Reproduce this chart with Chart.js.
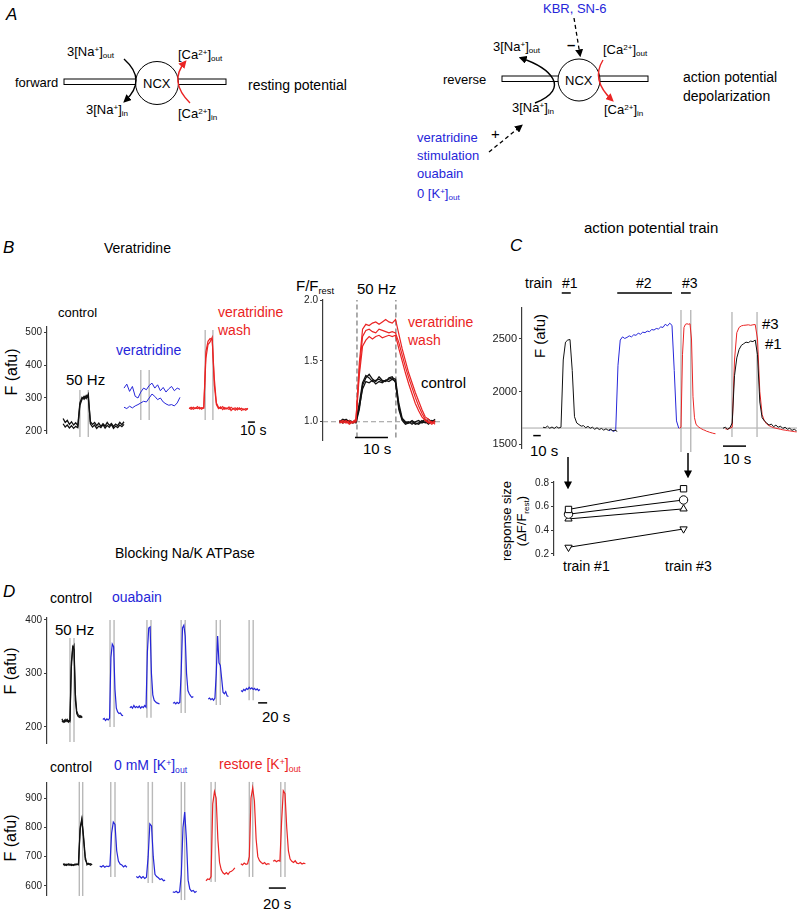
<!DOCTYPE html>
<html>
<head>
<meta charset="utf-8">
<script src="https://cdn.jsdelivr.net/npm/chart.js@4.4.1/dist/chart.umd.min.js"></script>
<style>
  html, body { margin: 0; padding: 0; background: #fff; }
  body { position: relative; width: 798px; height: 910px; overflow: hidden; font-family: 'Liberation Sans', Arial, sans-serif; }
  .t { position: absolute; white-space: nowrap; line-height: 1; color: #000; }
  .it { font-style: italic; font-size: 17px; }
  .blue { color: #2626d9; }
  .red { color: #ea2424; }
  .rot { transform: translate(-50%, -50%) rotate(-90deg); }
  .sp { font-size: 0.62em; vertical-align: 0.5em; }
  .sb { font-size: 0.62em; vertical-align: -0.3em; }
  svg { position: absolute; left: 0; top: 0; }
  canvas { position: absolute; }
</style>
</head>
<body>

<svg width="798" height="910">
  <defs>
    <marker id="ah" viewBox="0 0 10 10" refX="7" refY="5" markerWidth="8" markerHeight="8" markerUnits="userSpaceOnUse" orient="auto">
      <path d="M0,0 L10,5 L0,10 z" fill="#000"/>
    </marker>
    <marker id="ahr" viewBox="0 0 10 10" refX="7" refY="5" markerWidth="8" markerHeight="8" markerUnits="userSpaceOnUse" orient="auto">
      <path d="M0,0 L10,5 L0,10 z" fill="#ea2424"/>
    </marker>
  </defs>
  <!-- forward mode -->
  <rect x="64" y="79" width="162" height="5.5" fill="#fff" stroke="#000" stroke-width="1"/>
  <circle cx="157" cy="83" r="21.5" fill="#fff" stroke="#000" stroke-width="1"/>
  <path d="M124,59 Q147.5,80 125,101" fill="none" stroke="#000" stroke-width="1.4" marker-end="url(#ah)"/>
  <path d="M190,103 Q168.5,81.5 185,62" fill="none" stroke="#ea2424" stroke-width="1.4" marker-end="url(#ahr)"/>
  <!-- reverse mode -->
  <rect x="502" y="76" width="146" height="5.5" fill="#fff" stroke="#000" stroke-width="1"/>
  <circle cx="579" cy="80" r="21" fill="#fff" stroke="#000" stroke-width="1"/>
  <path d="M535,103 C572,88 550,68 521,58" fill="none" stroke="#000" stroke-width="1.4" marker-end="url(#ah)"/>
  <path d="M603,60 Q590.5,80 612,100" fill="none" stroke="#ea2424" stroke-width="1.4" marker-end="url(#ahr)"/>
  <line x1="574" y1="18" x2="580" y2="55" stroke="#000" stroke-width="1.3" stroke-dasharray="4,3" marker-end="url(#ah)"/>
  <line x1="489" y1="152" x2="521" y2="126" stroke="#000" stroke-width="1.3" stroke-dasharray="4,3" marker-end="url(#ah)"/>
  <!-- C arrows -->
  <line x1="568" y1="457" x2="568" y2="487" stroke="#000" stroke-width="1.5" marker-end="url(#ah)"/>
  <line x1="688" y1="453" x2="688" y2="476" stroke="#000" stroke-width="1.5" marker-end="url(#ah)"/>
</svg>

<!-- panel A text -->
<div class="t it" style="left:6px;top:6px">A</div>
<div class="t" style="left:15px;top:76px;font-size:13px">forward</div>
<div class="t" style="left:143px;top:77px;font-size:13px">NCX</div>
<div class="t" style="left:67px;top:45px;font-size:13px">3[Na<span class="sp">+</span>]<span class="sb">out</span></div>
<div class="t" style="left:86px;top:103px;font-size:13px">3[Na<span class="sp">+</span>]<span class="sb">in</span></div>
<div class="t" style="left:178px;top:48px;font-size:13px">[Ca<span class="sp">2+</span>]<span class="sb">out</span></div>
<div class="t" style="left:178px;top:107px;font-size:13px">[Ca<span class="sp">2+</span>]<span class="sb">in</span></div>
<div class="t" style="left:248px;top:78px;font-size:14px">resting potential</div>

<div class="t blue" style="left:543px;top:2px;font-size:13px">KBR, SN-6</div>
<div class="t" style="left:493px;top:40px;font-size:13px">3[Na<span class="sp">+</span>]<span class="sb">out</span></div>
<div class="t" style="left:603px;top:43px;font-size:13px">[Ca<span class="sp">2+</span>]<span class="sb">out</span></div>
<div class="t" style="left:443px;top:73px;font-size:13px">reverse</div>
<div class="t" style="left:565px;top:74px;font-size:13px">NCX</div>
<div class="t" style="left:683px;top:70px;font-size:14px">action potential</div>
<div class="t" style="left:683px;top:89px;font-size:14px">depolarization</div>
<div class="t" style="left:512px;top:101px;font-size:13px">3[Na<span class="sp">+</span>]<span class="sb">in</span></div>
<div class="t" style="left:604px;top:103px;font-size:13px">[Ca<span class="sp">2+</span>]<span class="sb">in</span></div>
<div class="t" style="left:567px;top:37px;font-size:15px;font-weight:bold">–</div>
<div class="t" style="left:491px;top:126px;font-size:15px">+</div>
<div class="t blue" style="left:417px;top:131px;font-size:13px">veratridine</div>
<div class="t blue" style="left:417px;top:149px;font-size:13px">stimulation</div>
<div class="t blue" style="left:417px;top:167px;font-size:13px">ouabain</div>
<div class="t blue" style="left:417px;top:187px;font-size:13px">0 [K<span class="sp">+</span>]<span class="sb">out</span></div>

<!-- panel B text -->
<div class="t it" style="left:3px;top:239px">B</div>
<div class="t" style="left:104px;top:241px;font-size:14px">Veratridine</div>
<div class="t" style="left:58px;top:306px;font-size:13px">control</div>
<div class="t blue" style="left:116px;top:343px;font-size:14px">veratridine</div>
<div class="t red" style="left:218px;top:305px;font-size:14px">veratridine</div>
<div class="t red" style="left:218px;top:323px;font-size:14px">wash</div>
<div class="t" style="left:66px;top:372px;font-size:15px">50 Hz</div>
<div class="t rot" style="left:12px;top:372px;font-size:16px">F (afu)</div>
<div class="t" style="left:240px;top:423px;font-size:14px">10 s</div>
<div class="t" style="left:296px;top:278px;font-size:15px">F/F<span class="sb">rest</span></div>
<div class="t" style="left:357px;top:281px;font-size:15px">50 Hz</div>
<div class="t red" style="left:408px;top:315px;font-size:14px">veratridine</div>
<div class="t red" style="left:408px;top:333px;font-size:14px">wash</div>
<div class="t" style="left:421px;top:375px;font-size:15px">control</div>
<div class="t" style="left:363px;top:441px;font-size:15px">10 s</div>

<!-- panel C text -->
<div class="t" style="left:584px;top:220px;font-size:15px">action potential train</div>
<div class="t it" style="left:510px;top:237px">C</div>
<div class="t" style="left:525px;top:276px;font-size:14px">train</div>
<div class="t" style="left:562px;top:276px;font-size:14px">#1</div>
<div class="t" style="left:636px;top:276px;font-size:14px">#2</div>
<div class="t" style="left:682px;top:276px;font-size:14px">#3</div>
<div class="t rot" style="left:539px;top:336px;font-size:15px">F (afu)</div>
<div class="t" style="left:762px;top:316px;font-size:15px">#3</div>
<div class="t" style="left:765px;top:336px;font-size:15px">#1</div>
<div class="t" style="left:530px;top:443px;font-size:15px">10 s</div>
<div class="t" style="left:723px;top:451px;font-size:15px">10 s</div>
<div class="t rot" style="left:506px;top:521px;font-size:13px">response size</div>
<div class="t rot" style="left:523px;top:521px;font-size:13px">(ΔF/F<span class="sb">rest</span>)</div>
<div class="t" style="left:563px;top:559px;font-size:14px">train #1</div>
<div class="t" style="left:665px;top:559px;font-size:14px">train #3</div>

<!-- panel D text -->
<div class="t" style="left:115px;top:546px;font-size:14px">Blocking Na/K ATPase</div>
<div class="t it" style="left:3px;top:583px">D</div>
<div class="t" style="left:50px;top:591px;font-size:14px">control</div>
<div class="t blue" style="left:112px;top:590px;font-size:14px">ouabain</div>
<div class="t" style="left:55px;top:622px;font-size:15px">50 Hz</div>
<div class="t rot" style="left:11px;top:671px;font-size:16px">F (afu)</div>
<div class="t" style="left:262px;top:709px;font-size:15px">20 s</div>
<div class="t" style="left:50px;top:760px;font-size:14px">control</div>
<div class="t blue" style="left:114px;top:758px;font-size:14px">0 mM [K<span class="sp">+</span>]<span class="sb">out</span></div>
<div class="t red" style="left:219px;top:757px;font-size:14px">restore [K<span class="sp">+</span>]<span class="sb">out</span></div>
<div class="t rot" style="left:11px;top:838px;font-size:16px">F (afu)</div>
<div class="t" style="left:263px;top:896px;font-size:15px">20 s</div>

<script>
// ---- data ----
// B, raw traces (F, afu), time in s
const bCtrlA = [238, 226, 232, 220, 228, 218, 225, 216, 285, 302, 296, 308, 300, 228, 220, 226, 216, 224, 214, 222, 215, 226, 217, 223, 214, 221, 216, 226, 219, 228];
const bCtrlB = [222, 212, 218, 209, 216, 208, 214, 210, 278, 296, 305, 298, 312, 222, 212, 218, 208, 215, 210, 219, 209, 217, 211, 220, 208, 215, 210, 218, 213, 220];
const bVerA = [330, 342, 320, 335, 305, 300, 318, 330, 325, 338, 345, 330, 340, 322, 332, 318, 328, 335, 322, 330, 326];
const bVerB = [272, 268, 275, 270, 276, 280, 285, 290, 288, 300, 312, 305, 295, 300, 288, 282, 278, 280, 276, 285, 302];
const bWashA = [270, 266, 272, 268, 274, 267, 271, 269, 440, 472, 480, 476, 360, 285, 272, 268, 274, 266, 270, 265, 272, 267, 263, 270, 266, 269, 264, 268, 266];
const bWashB = [268, 272, 266, 270, 268, 272, 266, 272, 420, 462, 470, 484, 340, 280, 268, 273, 265, 271, 267, 273, 262, 268, 270, 264, 270, 262, 267, 263, 269];
const bStim = [[47, 59], [134, 146], [226, 237]];
const bStimRange = [[182, 324], [233, 385], [233, 506]];
const bTicks = [200, 300, 400, 500];

// B, normalised traces (F/Frest)
const bRelRed1 = [1.00, 0.99, 1.01, 0.99, 1.00, 1.01, 1.48, 1.76, 1.80, 1.79, 1.81, 1.82, 1.80, 1.82, 1.84, 1.82, 1.81, 1.84, 1.72, 1.60, 1.50, 1.40, 1.32, 1.24, 1.17, 1.10, 1.04, 1.02, 0.99, 1.01];
const bRelRed2 = [0.99, 1.01, 1.00, 0.98, 1.00, 1.02, 1.42, 1.70, 1.75, 1.76, 1.74, 1.73, 1.76, 1.75, 1.74, 1.73, 1.74, 1.73, 1.65, 1.55, 1.45, 1.36, 1.28, 1.20, 1.13, 1.07, 1.02, 1.00, 0.98, 1.00];
const bRelRed3 = [1.01, 1.00, 0.99, 1.01, 0.99, 1.00, 1.38, 1.62, 1.67, 1.70, 1.68, 1.70, 1.71, 1.69, 1.70, 1.71, 1.70, 1.71, 1.60, 1.50, 1.40, 1.31, 1.23, 1.15, 1.09, 1.04, 1.01, 0.99, 1.00, 0.98];
const bRelBlk1 = [1.00, 1.02, 1.01, 0.99, 1.00, 1.01, 1.15, 1.32, 1.38, 1.36, 1.33, 1.34, 1.35, 1.33, 1.34, 1.35, 1.36, 1.35, 1.15, 1.03, 1.00, 0.99, 1.00, 0.98, 0.99, 1.01, 0.99, 1.02, 1.00, 1.01];
const bRelBlk2 = [0.99, 1.00, 1.02, 1.00, 0.99, 1.00, 1.12, 1.27, 1.33, 1.32, 1.34, 1.31, 1.33, 1.32, 1.34, 1.33, 1.35, 1.33, 1.12, 1.02, 0.99, 1.00, 0.98, 1.00, 1.01, 0.99, 1.00, 0.98, 1.01, 1.00];
const bRelBlk3 = [1.01, 0.99, 1.00, 1.01, 1.00, 0.99, 1.10, 1.30, 1.36, 1.39, 1.35, 1.33, 1.37, 1.34, 1.33, 1.36, 1.37, 1.32, 1.10, 1.01, 0.98, 0.99, 1.01, 0.99, 0.98, 1.00, 1.02, 0.99, 1.00, 1.02];
const bRelStim = [10.3, 22.1];
const bRelTicks = [1.0, 1.5, 2.0];

// C, three trains (F, afu)
const cTrain1 = [1660, 1655, 1670, 1650, 1662, 1648, 1665, 1652, 1660, 2300, 2470, 2490, 2495, 2200, 1760, 1700, 1685, 1670, 1675, 1655, 1668, 1650, 1660, 1640, 1655, 1638, 1648, 1632, 1645, 1630, 1640, 1625, 1632, 1620];
const cTrain2 = [1625, 1640, 1618, 1635, 2250, 2490, 2520, 2505, 2515, 2530, 2520, 2540, 2535, 2555, 2545, 2565, 2560, 2575, 2570, 2590, 2585, 2600, 2595, 2615, 2610, 2640, 2625, 2650, 2630, 2200, 1720, 1650];
const cTrain3 = [1650, 1660, 2350, 2610, 2640, 2645, 2640, 2645, 2500, 1950, 1750, 1690, 1670, 1660, 1650, 1642, 1635, 1630, 1622, 1618, 1612, 1608, 1604, 1600, 1598];
const cStim = [[53, 65], [127, 200], [212, 225]];
const cTicks = [1500, 2000, 2500];
const cRest = 1652;
// C, overlay of train #1 and #3
const cOv1 = [1650, 1660, 1640, 1655, 1700, 2150, 2320, 2400, 2440, 2455, 2470, 2465, 2480, 2475, 2490, 2350, 1900, 1750, 1720, 1700, 1680, 1690, 1665, 1680, 1660, 1670, 1648, 1660, 1640, 1650, 1630, 1640, 1625];
const cOv3 = [1645, 1640, 1650, 1660, 2300, 2560, 2610, 2625, 2630, 2632, 2635, 2630, 2635, 2638, 2500, 2000, 1780, 1720, 1690, 1675, 1665, 1655, 1650, 1645, 1640, 1635, 1632, 1628, 1625, 1622, 1618, 1615];
const cOvStim = [3.9, 14.8];
// C, response size (dF/Frest) at train #1 and #3
const respTrain = [1, 3];
const respSquare = [0.575, 0.75];
const respCircle = [0.535, 0.655];
const respTriUp = [0.495, 0.58];
const respTriDown = [0.255, 0.41];
const respTicks = [0.2, 0.4, 0.6, 0.8];

// D, ouabain (F, afu)
const dTop1 = [212, 209, 213, 210, 214, 209, 212, 320, 350, 345, 250, 225, 220, 218, 221, 217];
const dTop1b = [215, 211, 209, 214, 210, 212, 210, 310, 345, 352, 262, 230, 223, 221, 218, 220];
const dTop2 = [214, 216, 212, 215, 213, 216, 330, 355, 350, 270, 235, 228, 225, 226, 222, 221];
const dTop3 = [236, 238, 235, 240, 236, 238, 236, 239, 235, 238, 236, 240, 237, 340, 385, 387, 300, 260, 250, 247, 245, 244, 243];
const dTop4 = [244, 246, 243, 246, 244, 246, 300, 385, 390, 370, 300, 268, 262, 258, 255, 257];
const dTop5 = [252, 254, 251, 253, 250, 254, 300, 370, 320, 315, 290, 265, 262, 266, 258, 257];
const dTop6 = [268, 266, 270, 268, 272, 270, 274, 271, 273, 270, 272, 269, 271, 268, 270];
const dTopStart = [33, 124, 184, 280, 358, 431];
const dTopStim = [[51, 60], [140, 149], [222, 231], [298, 307], [376, 385], [449, 458]];
const dTopStimRange = [[172, 366], [200, 400], [217, 400], [226, 400], [241, 400], [250, 400]];
const dTopTicks = [200, 300, 400];

// D, 0 mM / restore K+ (F, afu)
const dBot1 = [672, 675, 670, 676, 671, 674, 670, 675, 672, 676, 800, 830, 760, 690, 678, 674, 676, 672];
const dBot1b = [676, 670, 674, 671, 675, 670, 673, 671, 675, 672, 790, 826, 770, 700, 672, 677, 671, 675];
const dBot2 = [668, 665, 670, 664, 668, 666, 669, 780, 818, 810, 720, 685, 675, 672, 665, 670, 664];
const dBot3 = [632, 628, 634, 627, 632, 626, 630, 700, 812, 805, 700, 640, 632, 628, 622, 625, 618, 620];
const dBot4 = [580, 578, 582, 577, 580, 640, 800, 852, 760, 620, 590, 582, 585, 578, 582];
const dBot5 = [618, 624, 622, 632, 880, 922, 900, 760, 680, 655, 645, 640, 646, 640, 648, 650, 655, 662];
const dBot6 = [676, 672, 678, 674, 676, 700, 900, 935, 890, 760, 700, 686, 680, 676, 680, 673, 676, 674];
const dBot7 = [684, 688, 683, 687, 685, 820, 925, 915, 800, 720, 692, 684, 680, 686, 678, 676, 680, 675, 678, 676];
const dBotStart = [19, 62, 105, 148, 187, 228, 266];
const dBotStim = [[38, 42], [75, 80], [119, 124], [158, 162], [193, 198], [238, 242], [275, 280]];
const dBotStimRange = [[566, 955], [631, 955], [610, 955], [552, 955], [614, 955], [631, 955], [631, 955]];
const dBotTicks = [600, 700, 800, 900];

// ---- drawing ----
const FONT = "'Liberation Sans', Arial, sans-serif";
const AXIS = '#3c3c3c';
const BLACK = '#111', BLUE = '#2626d9', RED = '#ea2424', STIM = '#b9b9b9';

function trace(vals, t0, dt, color, width) {
    return {
        data: vals.map((v, i) => ({ x: t0 + i * dt, y: v })),
        borderColor: color, borderWidth: width || 1, pointRadius: 0, tension: 0, order: 1
    };
}
function vline(t, lo, hi, color, dash) {
    return {
        data: [{ x: t, y: lo }, { x: t, y: hi }],
        borderColor: color || STIM, borderWidth: 1.4, borderDash: dash || [], pointRadius: 0, clip: false, order: 5
    };
}
function hline(t1, t2, y, color, width, dash) {
    return {
        data: [{ x: t1, y: y }, { x: t2, y: y }],
        borderColor: color || '#000', borderWidth: width || 1.5, borderDash: dash || [], pointRadius: 0, clip: false, order: 4
    };
}
function stims(pairs, ranges) {
    const out = [];
    pairs.forEach((p, i) => {
        const r = ranges[i] || ranges;
        out.push(vline(p[0], r[0], r[1]), vline(p[1], r[0], r[1]));
    });
    return out;
}

function makeChart(area, axisW, pad, xr, yr, ticks, dec, fs, datasets) {
    const cv = document.createElement('canvas');
    const w = area.w + axisW + pad.r;
    const h = area.h + pad.t + pad.b;
    cv.width = w;
    cv.height = h;
    cv.style.left = (area.x - axisW) + 'px';
    cv.style.top = (area.y - pad.t) + 'px';
    cv.style.width = w + 'px';
    cv.style.height = h + 'px';
    document.body.appendChild(cv);
    return new Chart(cv.getContext('2d'), {
        type: 'line',
        data: { datasets: datasets },
        options: {
            responsive: false,
            animation: false,
            events: [],
            layout: { padding: { left: 0, right: pad.r, top: pad.t, bottom: pad.b } },
            plugins: { legend: { display: false }, tooltip: { enabled: false } },
            scales: {
                x: { type: 'linear', min: xr[0], max: xr[1], display: false },
                y: {
                    type: 'linear', min: yr[0], max: yr[1], display: axisW > 0,
                    afterBuildTicks: s => { s.ticks = ticks.map(v => ({ value: v })); },
                    afterFit: s => { s.width = axisW; s.paddingTop = 0; s.paddingBottom = 0; },
                    grid: { drawOnChartArea: false, drawTicks: true, tickLength: 3, color: AXIS },
                    border: { display: true, color: AXIS, width: 1.2 },
                    ticks: { padding: 2, color: '#222', font: { family: FONT, size: fs }, callback: v => v.toFixed(dec) }
                }
            }
        }
    });
}

// B left: raw traces
makeChart({ x: 47, y: 327, w: 223, h: 106 }, 36, { t: 10, b: 12, r: 0 }, [0, 318.6], [193.9, 515.2], bTicks, 0, 10, [
    trace(bCtrlA, 23, 3, BLACK, 1.3),
    trace(bCtrlB, 23, 3, BLACK, 1.3),
    trace(bVerA, 110, 4, BLUE),
    trace(bVerB, 110, 4, BLUE),
    trace(bWashA, 203, 3, RED, 1.2),
    trace(bWashB, 203, 3, RED, 1.2),
    ...stims(bStim, bStimRange),
    hline(287, 297, 227)
]);

// B right: normalised
makeChart({ x: 323, y: 300, w: 122, h: 140 }, 30, { t: 10, b: 10, r: 0 }, [0, 37], [0.85, 2.0], bRelTicks, 1, 10, [
    trace(bRelRed1, 5, 1, RED, 1.2),
    trace(bRelRed2, 5, 1, RED, 1.2),
    trace(bRelRed3, 5, 1, RED, 1.2),
    trace(bRelBlk1, 5, 1, BLACK, 1.3),
    trace(bRelBlk2, 5, 1, BLACK, 1.3),
    trace(bRelBlk3, 5, 1, BLACK, 1.3),
    vline(bRelStim[0], 0.87, 2.0, '#8a8a8a', [5, 3]),
    vline(bRelStim[1], 0.87, 2.0, '#8a8a8a', [5, 3]),
    hline(0, 36, 1.0, '#9a9a9a', 1, [5, 3]),
    hline(9.7, 19.7, 0.87)
]);

// C: three trains
makeChart({ x: 522, y: 308, w: 275, h: 140 }, 36, { t: 22, b: 12, r: 0 }, [0, 366.7], [1462, 2795], cTicks, 0, 11, [
    trace(cTrain1, 28, 3, BLACK),
    trace(cTrain2, 116, 3, BLUE),
    trace(cTrain3, 210, 2, RED),
    ...stims(cStim, [1424, 2776]),
    ...cStim.map(p => hline(p[0], p[1], 2938, '#000', 1.5)),
    hline(0, 366.7, cRest, '#a8a8a8', 1),
    hline(15, 25, 1580)
]);

// C: overlay of #1 and #3
makeChart({ x: 723, y: 308, w: 75, h: 140 }, 0, { t: 10, b: 10, r: 0 }, [0, 32.6], [1462, 2795], cTicks, 0, 11, [
    trace(cOv1, 0, 1, BLACK),
    trace(cOv3, 1, 1, RED),
    vline(cOvStim[0], 1567, 2757),
    vline(cOvStim[1], 1567, 2757),
    hline(0, 10, 1480)
]);

// C: response size
const respMarks = [[respSquare, 'rect', 0], [respCircle, 'circle', 0], [respTriUp, 'triangle', 0], [respTriDown, 'triangle', 180]];
makeChart({ x: 554, y: 482, w: 166, h: 73 }, 26, { t: 10, b: 10, r: 0 }, [0.748, 3.538], [0.19, 0.807], respTicks, 1, 10,
    respMarks.map(m => ({
        data: respTrain.map((x, i) => ({ x: x, y: m[0][i] })),
        borderColor: '#000', borderWidth: 1, pointStyle: m[1], rotation: m[2],
        pointRadius: m[1] === 'rect' ? 4.5 : 4.2, pointBackgroundColor: '#fff', pointBorderColor: '#000',
        pointBorderWidth: 1, clip: false
    }))
);

// D top: ouabain
const dTopSeries = [dTop1, dTop2, dTop3, dTop4, dTop5, dTop6];
makeChart({ x: 47, y: 618, w: 253, h: 125 }, 36, { t: 10, b: 10, r: 0 }, [0, 562], [170, 403.6], dTopTicks, 0, 10, [
    trace(dTop1b, dTopStart[0], 3, BLACK, 1.2),
    ...dTopSeries.map((s, i) => trace(s, dTopStart[i], 3, i === 0 ? BLACK : BLUE, 1.2)),
    ...stims(dTopStim, dTopStimRange),
    hline(469, 489, 245)
]);

// D bottom: 0 mM K+ and restore
const dBotSeries = [dBot1, dBot2, dBot3, dBot4, dBot5, dBot6, dBot7];
const dBotColor = [BLACK, BLUE, BLUE, BLUE, RED, RED, RED];
makeChart({ x: 47, y: 783, w: 263, h: 112 }, 36, { t: 10, b: 12, r: 0 }, [0, 309.4], [569.3, 951.2], dBotTicks, 0, 10, [
    trace(dBot1b, dBotStart[0], 2, BLACK, 1.2),
    ...dBotSeries.map((s, i) => trace(s, dBotStart[i], 2, dBotColor[i], 1.2)),
    ...stims(dBotStim, dBotStimRange),
    hline(261, 281, 593)
]);
</script>
</body>
</html>
